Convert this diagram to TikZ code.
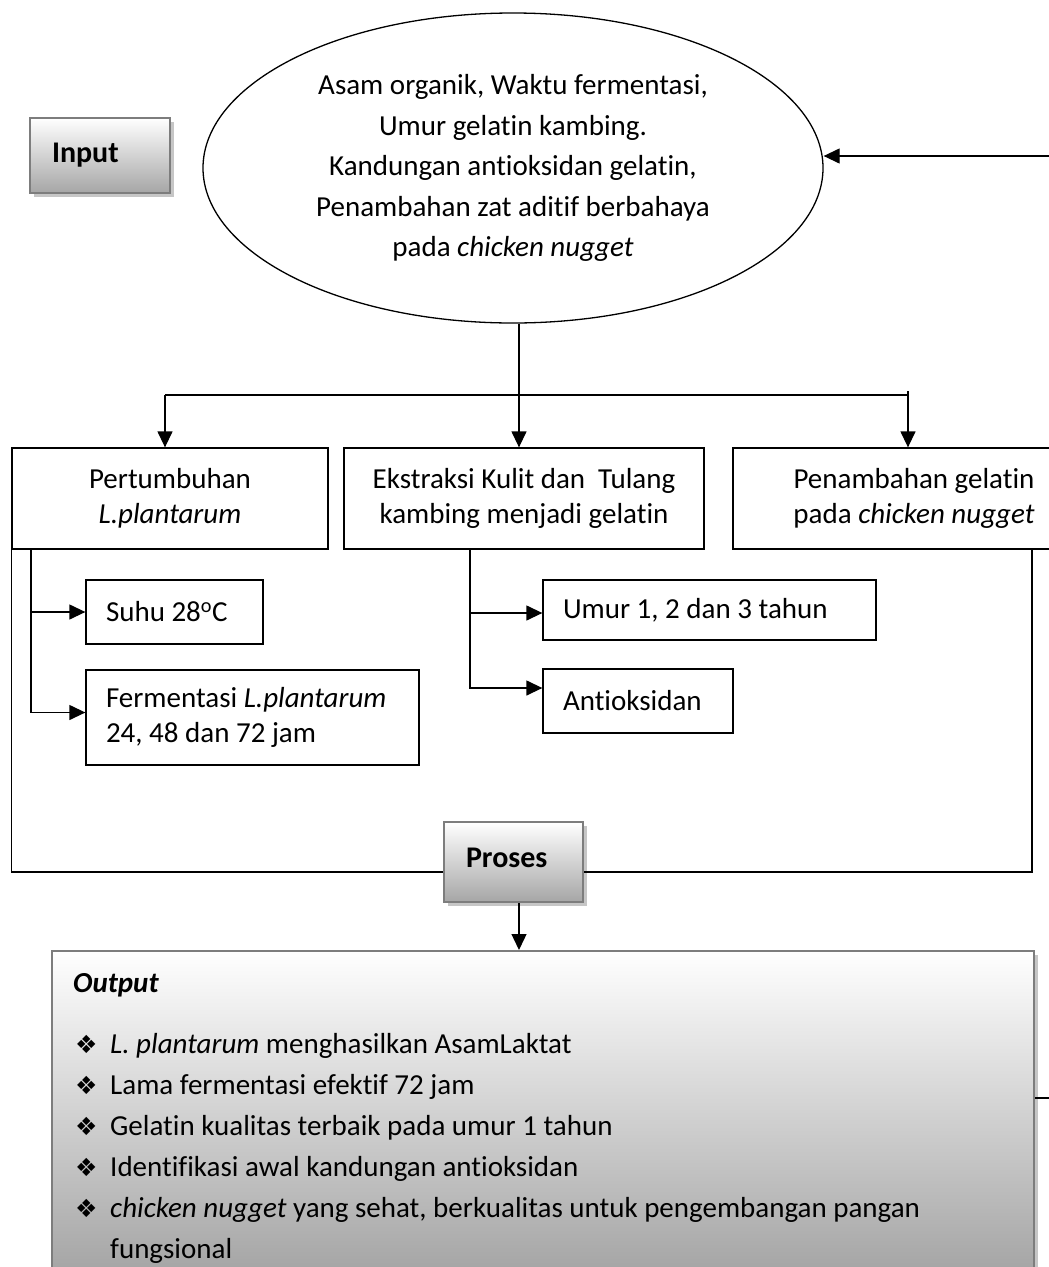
\documentclass[tikz,border=0pt]{standalone}
\usepackage{fontspec}
\setmainfont{Carlito}[Ligatures=NoCommon]
\newfontfamily\djv{DejaVu Sans}
\usetikzlibrary{arrows.meta,shadows,shapes.geometric}
\newcommand\obul{\makebox[35pt][l]{\raisebox{0pt}{\djv\fontsize{25}{25}\selectfont ❖}}}
\begin{document}
\begin{tikzpicture}[x=1pt,y=-1pt,
  ln/.style={line width=1.3pt,black},
  arr/.style={ln,-{Triangle[length=16pt,width=15pt]}},
  bx/.style={draw,line width=1.3pt,rectangle,inner sep=0pt,align=center,font=\fontsize{29}{35}\selectfont},
  lbx/.style={bx,align=left,inner xsep=20pt},
  gbx/.style={draw={rgb,255:red,125;green,125;blue,125},line width=2pt,rectangle,inner sep=0pt,
     top color=white,bottom color=gray!70,
     drop shadow={shadow xshift=4pt,shadow yshift=-4pt,fill=gray!45,opacity=1},
     font=\fontsize{30}{36}\selectfont\bfseries},
  txt/.style={inner sep=0pt,anchor=base west,font=\fontsize{29}{35}\selectfont}
]
\useasboundingbox (0,0) rectangle (1049,1267);
\clip (0,0) rectangle (1049,1267);

% input
\node[gbx,minimum width=140pt,minimum height=75pt,align=left,inner xsep=22pt] (inp) at (100,155.5) {\makebox[96pt][l]{\raisebox{4pt}{Input}}};

% ellipse
\node[ellipse,draw,line width=1.3pt,minimum width=620pt,minimum height=310pt,inner sep=0pt,align=center,
  font=\fontsize{29}{40.5}\selectfont] (ell) at (513,168)
  {Asam organik, Waktu fermentasi,\\Umur gelatin kambing.\\Kandungan antioksidan gelatin,\\Penambahan zat aditif berbahaya\\pada \textit{chicken nugget}};

% main boxes
\node[bx,minimum width=316pt,minimum height=101pt] (pert) at (170,498.5) {Pertumbuhan\\\textit{L.plantarum}};
\node[bx,minimum width=360pt,minimum height=101pt] (ekst) at (524,498.5) {Ekstraksi Kulit dan\ \ Tulang\\kambing menjadi gelatin};
\node[bx,minimum width=362pt,minimum height=101pt] (pnb) at (914,498.5) {Penambahan gelatin\\pada \textit{chicken nugget}};

% sub boxes
\node[lbx,minimum height=64pt] (suhu) at (174.5,612) {\makebox[137pt][l]{Suhu 28\textsuperscript{o}C}};
\node[lbx,minimum height=95pt] (ferm) at (252.5,717.5) {\makebox[293pt][l]{Fermentasi \textit{L.plantarum}}\\\makebox[293pt][l]{24, 48 dan 72 jam}};
\node[lbx,minimum height=60pt] (umur) at (709.5,610) {\makebox[293pt][l]{Umur 1, 2 dan 3 tahun}};
\node[lbx,minimum height=64pt] (anti) at (638,701) {\makebox[150pt][l]{Antioksidan}};

% proses
\node[gbx,minimum width=139pt,minimum height=80pt,align=left,inner xsep=22pt] (pros) at (513.5,862) {\makebox[95pt][l]{\raisebox{8pt}{Proses}}};

% output
\node[gbx,minimum width=982pt,minimum height=340pt,anchor=north west,bottom color=gray!75] (out) at (51,950) {};
\node[txt,font=\fontsize{29}{35}\selectfont\bfseries\itshape] (otitle) at (73,992) {Output};
\node[txt] (o1) at (75,1053) {\obul\textit{L. plantarum} menghasilkan AsamLaktat};
\node[txt] (o2) at (75,1094) {\obul Lama fermentasi efektif 72 jam};
\node[txt] (o3) at (75,1135) {\obul Gelatin kualitas terbaik pada umur 1 tahun};
\node[txt] (o4) at (75,1176) {\obul Identifikasi awal kandungan antioksidan};
\node[txt] (o5) at (75,1217) {\obul\textit{chicken nugget} yang sehat, berkualitas untuk pengembangan pangan};
\node[txt] (o6) at (110,1258) {fungsional};

% connectors
\coordinate (jl) at (165,395);
\coordinate (jm) at (519,395);
\coordinate (jr) at (908,395);
\coordinate (jrt) at (908,391);
\draw[ln] (ell.south -| jm) -- (jm);
\draw[ln] (jl) -- (jr);
\draw[arr] (jl) -- (jl |- pert.north);
\draw[arr] (jm) -- (jm |- ekst.north);
\draw[arr] (jrt) -- (jrt |- pnb.north);

\coordinate (fb) at (1049,156);
\draw[arr] (fb) -- (fb -| ell.east);

\coordinate (bl) at (31,549);
\draw[arr] (bl) |- (suhu.west);
\draw[arr] (bl) |- ([yshift=5pt]ferm.west);
\coordinate (bm) at (470,549);
\draw[arr] (bm) |- ([yshift=-3pt]umur.west);
\draw[arr] (bm) |- ([yshift=13pt]anti.west);

\draw[ln] (pert.south west) |- ([yshift=-10pt]pros.west);
\coordinate (br) at (1032,549);
\draw[ln] (br) |- ([yshift=-10pt]pros.east);

\coordinate (pa) at ([xshift=5.5pt]pros.south);
\draw[arr] (pa) -- (pa |- out.north);

\coordinate (ob) at (1049,1098);
\draw[ln] (ob -| out.east) -- (ob);
\end{tikzpicture}
\end{document}
